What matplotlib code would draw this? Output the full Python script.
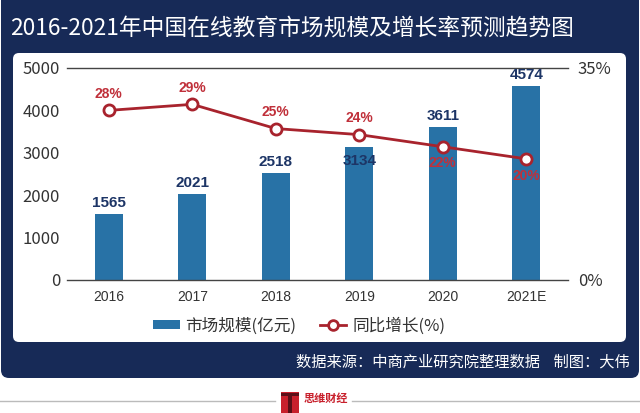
import matplotlib
matplotlib.use("Agg")
import matplotlib.pyplot as plt
from matplotlib.patches import FancyBboxPatch, Rectangle, Patch
from matplotlib.lines import Line2D

plt.rcParams['font.family'] = ['Noto Sans CJK SC', 'DejaVu Sans']

# ---- data ----
categories = ['2016', '2017', '2018', '2019', '2020', '2021E']
market_size = [1565, 2021, 2518, 3134, 3611, 4574]   # 亿元
growth_rate = [28, 29, 25, 24, 22, 20]               # %
left_ticks = [0, 1000, 2000, 3000, 4000, 5000]
right_ticks = [0, 35]
title = '2016-2021年中国在线教育市场规模及增长率预测趋势图'
legend_bar = '市场规模(亿元)'
legend_line = '同比增长(%)'
source = '数据来源：中商产业研究院整理数据    制图：大伟'

NAVY = '#172a57'
BAR = '#2872a6'
RED = '#a8232d'
LBL_BLUE = '#1d3566'
LBL_RED = '#c0303a'
TXT = '#333333'
NUMFONT = ['Liberation Sans', 'DejaVu Sans']

W, H = 640, 413
fig = plt.figure(figsize=(W / 100, H / 100), dpi=100)
fig.patch.set_facecolor('white')

def px(x, y):
    return x / W, 1 - y / H

# background panels (inches coordinates)
navy = FancyBboxPatch((0.01, (H - 378) / 100), 6.38, 378 / 100 + 0.2,
                      boxstyle="round,pad=0,rounding_size=0.08",
                      transform=fig.dpi_scale_trans, facecolor=NAVY,
                      edgecolor='none', zorder=0)
fig.patches.append(navy)
white = FancyBboxPatch((0.13, (H - 342) / 100), 6.13, 2.89,
                       boxstyle="round,pad=0,rounding_size=0.06",
                       transform=fig.dpi_scale_trans, facecolor='white',
                       edgecolor='none', zorder=1)
fig.patches.append(white)

# title
fig.text(*px(10, 28), title, color='white', fontsize=16.4, va='center', ha='left')

# axes
ax = fig.add_axes([67 / W, 1 - 280 / H, (568 - 67) / W, (280 - 68) / H])
ax.set_facecolor('none')
ax.set_zorder(3)
x = list(range(len(categories)))
bars = ax.bar(x, market_size, width=0.34, color=BAR, zorder=2)
ax.set_xlim(-0.5, len(categories) - 0.5)
ax.set_ylim(0, 5000)
ax.set_yticks(left_ticks)
ax.set_xticks(x)
ax.set_xticklabels(categories, family=NUMFONT, fontsize=10, color=TXT)
ax.tick_params(axis='y', length=0, pad=5, labelsize=12, labelcolor=TXT)
ax.tick_params(axis='x', length=0, pad=7)
for s in ['left', 'right']:
    ax.spines[s].set_visible(False)
for s in ['top', 'bottom']:
    ax.spines[s].set_color('#444444')
    ax.spines[s].set_linewidth(1.0)

for i, v in enumerate(market_size):
    off = -10 if i == 3 else 8
    ax.annotate(str(v), (i, v), xytext=(0, off), textcoords='offset points',
                ha='center', va='center', fontsize=11, fontweight='bold',
                family=NUMFONT, color=LBL_BLUE, zorder=5)

ax2 = ax.twinx()
ax2.set_ylim(0, 35)
ax2.set_yticks(right_ticks)
ax2.set_yticklabels([f'{t}%' for t in right_ticks])
ax2.tick_params(axis='y', length=0, pad=7, labelsize=12, labelcolor=TXT)
for s in ['left', 'right', 'top', 'bottom']:
    ax2.spines[s].set_visible(False)
ax2.plot(x, growth_rate, color=RED, lw=2, marker='o', markersize=8,
         markerfacecolor='white', markeredgecolor=RED, markeredgewidth=2,
         zorder=4)
for i, v in enumerate(growth_rate):
    off = 12 if i < 4 else -12
    ax2.annotate(f'{v}%', (i, v), xytext=(0, off), textcoords='offset points',
                 ha='center', va='center', fontsize=10, fontweight='bold',
                 family=NUMFONT, color=LBL_RED, zorder=6)

# legend
handles = [Patch(facecolor=BAR, edgecolor='none'),
           Line2D([], [], color=RED, lw=2, marker='o', markersize=7,
                  markerfacecolor='white', markeredgecolor=RED, markeredgewidth=2)]
leg = fig.legend(handles, [legend_bar, legend_line], loc='center',
                 bbox_to_anchor=px(299, 326), ncol=2, frameon=False,
                 fontsize=12, handlelength=1.6, handleheight=0.45,
                 handletextpad=0.35, columnspacing=1.4, labelcolor=TXT)

# source
fig.text(*px(630, 362), source, color='white', fontsize=11, ha='right', va='center')

# footer logo
fig.add_artist(Line2D([0, 275 / W], [1 - 401 / H] * 2, color='#bbbbbb', lw=1))
fig.add_artist(Line2D([352 / W, 1], [1 - 401 / H] * 2, color='#bbbbbb', lw=1))
fig.add_artist(Rectangle(px(281, 413), 18 / W, 21 / H, facecolor='#c8202c',
                         edgecolor='none'))
fig.add_artist(Rectangle(px(281, 396), 18 / W, 3 / H, facecolor='#5a1018',
                         edgecolor='none'))
fig.add_artist(Rectangle(px(288, 413), 4 / W, 17 / H, facecolor='#5a1018',
                         edgecolor='none'))
fig.text(*px(304, 398), '思维财经', color='#c8202c', fontsize=8,
         fontweight='bold', ha='left', va='center')

fig.savefig('out.png', dpi=100, facecolor='white')
